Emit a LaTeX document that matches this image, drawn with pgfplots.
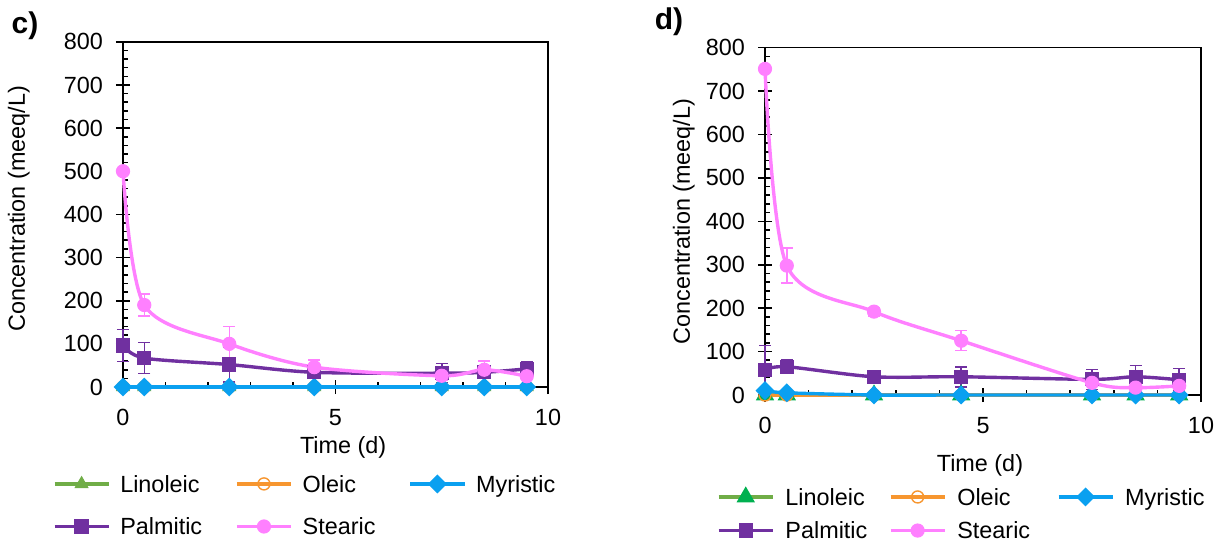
\documentclass[border=0pt]{standalone}
\usepackage{fontspec}
\setmainfont{Liberation Sans}
\usepackage{pgfplots}
\usepackage{pgfplotstable}
\pgfplotsset{compat=1.18}

\definecolor{cLin}{HTML}{70AD47}
\definecolor{cLinM}{HTML}{00B050}
\definecolor{cOle}{HTML}{F7962F}
\definecolor{cMyr}{HTML}{0AA0F0}
\definecolor{cPal}{HTML}{7030A0}
\definecolor{cSte}{HTML}{FF80FF}

\pgfplotstableread{
x y
0 0
0.5 0
2.5 0
4.5 0
7.5 0
8.5 0
9.5 0
}\zeros

\pgfplotstableread{
x y e
0 96 37
0.5 67 36
2.5 52 40
4.5 34 28
7.5 32 22
8.5 34 26
9.5 42 17
}\cPal

\pgfplotstableread{
x y e
0 500 0
0.5 190 26
2.5 100 40
4.5 46 17
7.5 26 10
8.5 40 20
9.5 25 8
}\cSte

\pgfplotstableread{
x y
0 10
0.5 5
2.5 0
4.5 0
7.5 0
8.5 0
9.5 0
}\dMyr

\pgfplotstableread{
x y e
0 58 56
0.5 65 16
2.5 42 5
4.5 42 23
7.5 36 23
8.5 42 26
9.5 35 26
}\dPal

\pgfplotstableread{
x y e
0 751 3
0.5 298 40
2.5 192 10
4.5 125 23
7.5 28 5
8.5 17 5
9.5 21 5
}\dSte

\newcommand{\fs}{\fontsize{11.7bp}{14bp}\selectfont}

\pgfplotsset{
  commonax/.style={
    scale only axis, anchor=south west,
    xmin=0, xmax=10, ymin=0, ymax=800, clip=false,
    xtick={0,5,10}, ytick={0,100,...,800},
    minor x tick num=4, minor y tick num=4,
    tick pos=left, tick align=inside,
    major tick length=7bp, minor tick length=2.5bp,
    every major y tick/.append style={xshift=-3.5bp},
    every major x tick/.append style={yshift=-3.5bp},
    axis line style={line width=0.8bp, black},
    tick style={line width=0.8bp, black},
    ticklabel style={font=\fs},
    /pgf/number format/assume math mode=true,
    yticklabel style={xshift=-6.5bp},
    xticklabel style={yshift=-7.5bp},
    label style={font=\fs},
    xlabel={Time (d)}, ylabel={Concentration (meeq/L)},
    legend columns=3, legend cell align=left,
    legend image code/.code={
      \draw[mark repeat=2,mark phase=2,#1] plot coordinates {(0bp,0bp) (13.5bp,0bp) (27bp,0bp)};
    },
  },
  ser/.style={smooth, line width=1.7bp, color=#1,
    mark size=3.3bp, mark options={solid, fill=#1, draw=#1, line width=0.5bp}},
  dia/.style={mark=square*, mark size=2.5bp, mark options={rotate=45}},
  ole/.style={mark=o, mark size=3bp, mark options={fill=white, line width=0.7bp}},
  errs/.style={error bars/.cd, y dir=both, y explicit,
    error bar style={line width=0.75bp, color=#1},
    error mark options={rotate=90, mark size=3bp, line width=0.75bp, color=#1}},
}

\begin{document}
\begin{tikzpicture}
\useasboundingbox (0,0) rectangle (610.5bp,271bp);

% ---------- panel c ----------
\begin{axis}[commonax,
  at={(61.5bp,77.5bp)}, width=212.5bp, height=172.6bp,
  xlabel style={at={(axis description cs:0.518,-0.174)}, anchor=center},
  ylabel style={at={(axis description cs:-0.245,0.516)}, anchor=center},
  legend style={draw=none, fill=none, inner sep=0pt, outer sep=0pt,
    at={(-0.165,-0.248)}, anchor=north west, font=\fs,
    row sep=10bp, column sep=0pt, nodes={inner sep=0pt}},
]
\addplot[ser=cLin, mark=triangle*, mark size=3.6bp] table[x=x,y=y] {\zeros};
\addlegendentry{\hspace*{5bp}\makebox[57.5bp][l]{\strut Linoleic}}
\addplot[ser=cOle, ole] table[x=x,y=y] {\zeros};
\addlegendentry{\hspace*{5bp}\makebox[53bp][l]{\strut Oleic}}
\addplot[ser=cMyr, dia] table[x=x,y=y] {\zeros};
\addlegendentry{\hspace*{5bp}\makebox[57.5bp][l]{\strut Myristic}}
\addplot[ser=cPal, mark=square*, errs=cPal] table[x=x,y=y,y error=e] {\cPal};
\addlegendentry{\hspace*{5bp}\makebox[57.5bp][l]{\strut Palmitic}}
\addplot[ser=cSte, mark=*, errs=cSte] table[x=x,y=y,y error=e] {\cSte};
\addlegendentry{\hspace*{5bp}\makebox[53bp][l]{\strut Stearic}}
\end{axis}

% ---------- panel d ----------
\begin{axis}[commonax,
  at={(382.5bp,73.5bp)}, width=218bp, height=173.7bp,
  xlabel style={at={(axis description cs:0.493,-0.203)}, anchor=center},
  ylabel style={at={(axis description cs:-0.186,0.499)}, anchor=center},
  legend style={draw=none, fill=none, inner sep=0pt, outer sep=0pt,
    at={(-0.110,-0.261)}, anchor=north west, font=\fs,
    row sep=5.5bp, column sep=0pt, nodes={inner sep=0pt}},
]
\addplot[ser=cLin, mark=triangle*, mark size=3.6bp, mark options={fill=cLinM, draw=cLinM}] table[x=x,y=y] {\zeros};
\addlegendentry{\hspace*{5.5bp}\makebox[51.75bp][l]{\strut Linoleic}}
\addplot[ser=cOle, ole] table[x=x,y=y] {\zeros};
\addlegendentry{\hspace*{5.5bp}\makebox[49.75bp][l]{\strut Oleic}}
\addplot[ser=cMyr, dia] table[x=x,y=y] {\dMyr};
\addlegendentry{\hspace*{5.5bp}\makebox[51.75bp][l]{\strut Myristic}}
\addplot[ser=cPal, mark=square*, errs=cPal] table[x=x,y=y,y error=e] {\dPal};
\addlegendentry{\hspace*{5.5bp}\makebox[51.75bp][l]{\strut Palmitic}}
\addplot[ser=cSte, mark=*, errs=cSte] table[x=x,y=y,y error=e] {\dSte};
\addlegendentry{\hspace*{5.5bp}\makebox[49.75bp][l]{\strut Stearic}}
\end{axis}

\node[font=\fontsize{15bp}{18bp}\selectfont\bfseries] at (12.5bp,258.25bp) {c)};
\node[font=\fontsize{15bp}{18bp}\selectfont\bfseries] at (334.5bp,260.25bp) {d)};
\end{tikzpicture}
\end{document}
